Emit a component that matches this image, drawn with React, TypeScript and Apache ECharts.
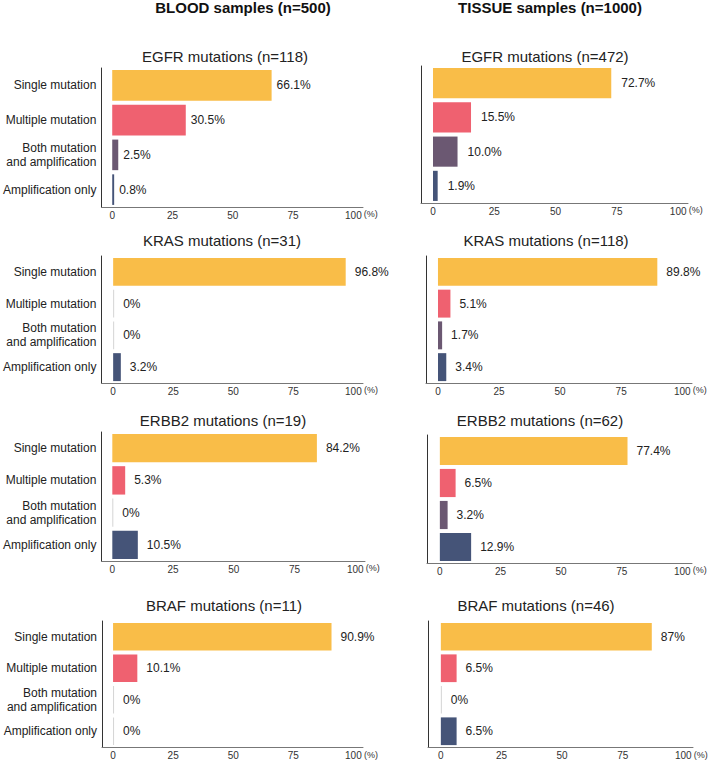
import React, { useEffect, useRef } from "react";
import * as echarts from "echarts";

const categories = ["Single mutation", "Multiple mutation", "Both mutation\nand amplification", "Amplification only"];
const columnTitles = ["BLOOD samples (n=500)", "TISSUE samples (n=1000)"];
const panelTitles = [
  "EGFR mutations (n=118)", "EGFR mutations (n=472)",
  "KRAS mutations (n=31)", "KRAS mutations (n=118)",
  "ERBB2 mutations (n=19)", "ERBB2 mutations (n=62)",
  "BRAF mutations (n=11)", "BRAF mutations (n=46)",
];

const bloodEGFR = [66.1, 30.5, 2.5, 0.8];
const tissueEGFR = [72.7, 15.5, 10.0, 1.9];
const bloodKRAS = [96.8, 0, 0, 3.2];
const tissueKRAS = [89.8, 5.1, 1.7, 3.4];
const bloodERBB2 = [84.2, 5.3, 0, 10.5];
const tissueERBB2 = [77.4, 6.5, 3.2, 12.9];
const bloodBRAF = [90.9, 10.1, 0, 0];
const tissueBRAF = [87, 6.5, 0, 6.5];

const bloodEGFRLabels = ["66.1%", "30.5%", "2.5%", "0.8%"];
const tissueEGFRLabels = ["72.7%", "15.5%", "10.0%", "1.9%"];
const bloodKRASLabels = ["96.8%", "0%", "0%", "3.2%"];
const tissueKRASLabels = ["89.8%", "5.1%", "1.7%", "3.4%"];
const bloodERBB2Labels = ["84.2%", "5.3%", "0%", "10.5%"];
const tissueERBB2Labels = ["77.4%", "6.5%", "3.2%", "12.9%"];
const bloodBRAFLabels = ["90.9%", "10.1%", "0%", "0%"];
const tissueBRAFLabels = ["87%", "6.5%", "0%", "6.5%"];

const xTicks = [0, 25, 50, 75, 100];

const panelValues = [bloodEGFR, tissueEGFR, bloodKRAS, tissueKRAS, bloodERBB2, tissueERBB2, bloodBRAF, tissueBRAF];
const panelLabels = [bloodEGFRLabels, tissueEGFRLabels, bloodKRASLabels, tissueKRASLabels, bloodERBB2Labels, tissueERBB2Labels, bloodBRAFLabels, tissueBRAFLabels];

const categoryColors = ["#F9BD48", "#EF6170", "#6B5872", "#455478"];
const zeroColor = "#d4d4d4";
const FONT = '"Liberation Sans", Arial, Helvetica, sans-serif';

// layout (pixels)
const layout = [
  { left: 97, top: 68, width: 266, height: 139, min: -4.5, dist: 5 },
  { left: 421, top: 66, width: 267, height: 137, min: -4.9, dist: 10 },
  { left: 98, top: 256, width: 265, height: 127, min: -4.9, dist: 9 },
  { left: 426, top: 256, width: 266, height: 127, min: -4.9, dist: 9 },
  { left: 99, top: 432, width: 266, height: 129, min: -4.5, dist: 9 },
  { left: 427, top: 435, width: 265, height: 128, min: -5.3, dist: 9 },
  { left: 102, top: 621, width: 261, height: 127, min: -4.6, dist: 9 },
  { left: 428, top: 621, width: 265, height: 127, min: -5.3, dist: 9 },
];
const titlePos = [[225, 56], [545, 56], [222, 240], [546, 240], [223, 420], [540, 420], [224, 605], [536, 605]];
const columnTitlePos = [[243, 7], [550, 7]];
const X_MAX = 104;

export default function App() {
  const ref = useRef<HTMLDivElement>(null);
  useEffect(() => {
    if (!ref.current) return;
    const chart = echarts.init(ref.current, undefined, { renderer: "svg" });
    const grid = layout.map((l) => ({ left: l.left, top: l.top, width: l.width, height: l.height, containLabel: false }));
    const xAxis = layout.map((l, i) => ({
      type: "value",
      gridIndex: i,
      min: l.min,
      max: X_MAX,
      axisLine: { show: true, onZero: false, lineStyle: { color: "#777", width: 1 } },
      axisTick: { show: false },
      splitLine: { show: false },
      axisLabel: {
        customValues: xTicks,
        fontSize: 10,
        color: "#333",
        margin: 3,
        fontFamily: FONT,
      },
    }));
    const yAxis = layout.map((_, i) => ({
      type: "category",
      gridIndex: i,
      data: categories,
      inverse: true,
      axisLine: { show: true, onZero: false, lineStyle: { color: "#333", width: 1 } },
      axisTick: { show: false },
      axisLabel: {
        show: i % 2 === 0,
        fontSize: 12,
        color: "#222",
        margin: 5,
        lineHeight: 14,
        fontFamily: FONT,
      },
    }));
    const series = panelValues.map((vals, i) => ({
      type: "bar",
      xAxisIndex: i,
      yAxisIndex: i,
      barCategoryGap: "12%",
      barMinHeight: 1,
      data: vals.map((v, j) => ({
        value: v,
        itemStyle: { color: v === 0 ? zeroColor : categoryColors[j] },
      })),
      label: {
        show: true,
        position: "right",
        distance: layout[i].dist,
        fontSize: 12,
        color: "#222",
        fontFamily: FONT,
        formatter: (p: any) => panelLabels[i][p.dataIndex],
      },
    }));
    const graphics: any[] = [];
    columnTitles.forEach((t, i) => {
      graphics.push({
        type: "text",
        x: columnTitlePos[i][0],
        y: columnTitlePos[i][1],
        style: { text: t, font: `bold 15px ${FONT}`, fill: "#111", textAlign: "center", textVerticalAlign: "middle" },
      });
    });
    panelTitles.forEach((t, i) => {
      graphics.push({
        type: "text",
        x: titlePos[i][0],
        y: titlePos[i][1],
        style: { text: t, font: `15px ${FONT}`, fill: "#222", textAlign: "center", textVerticalAlign: "middle" },
      });
    });
    chart.setOption({
      animation: false,
      backgroundColor: "#fff",
      grid,
      xAxis,
      yAxis,
      series,
      graphic: graphics,
    });
    const pct: any[] = [];
    layout.forEach((l, i) => {
      const px = chart.convertToPixel({ xAxisIndex: i } as any, 100) as number;
      pct.push({
        type: "text",
        x: px + 10.5,
        y: l.top + l.height + 2.5,
        style: { text: "(%)", font: `9px ${FONT}`, fill: "#333", textAlign: "left", textVerticalAlign: "top" },
      });
    });
    chart.setOption({ graphic: [...graphics, ...pct] });
    return () => chart.dispose();
  }, []);
  return <div ref={ref} style={{ position: "absolute", left: 0, top: 0, width: 709, height: 760 }} />;
}
